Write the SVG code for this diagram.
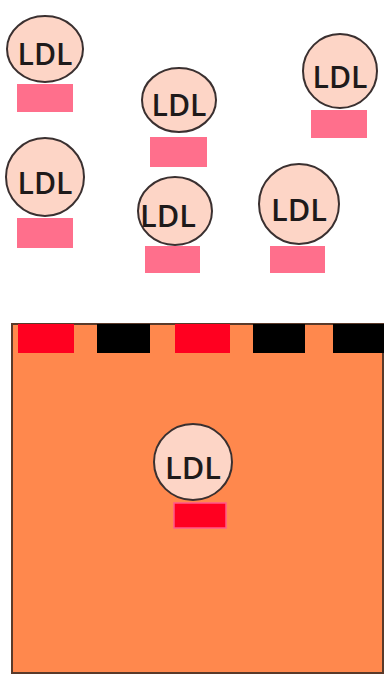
<svg xmlns="http://www.w3.org/2000/svg" width="384" height="677" viewBox="0 0 384 677">
<style>
.c{fill:#fdd5c6;stroke:#3a3030;stroke-width:2}
.t{font-family:"Open Sans","DejaVu Sans",sans-serif;font-size:31px;font-weight:600;fill:#1e1a1a;text-anchor:middle}
.p{fill:#ff6f8c}
.r{fill:#ff0020}
.k{fill:#000}
</style>
<rect width="384" height="677" fill="#fff"/>
<g id="ldl1"><ellipse class="c" cx="45" cy="49" rx="38" ry="33"/><text class="t" x="45" y="65" textLength="55" lengthAdjust="spacingAndGlyphs">LDL</text><rect class="p" x="17" y="84" width="56" height="28"/></g>
<g id="ldl2"><ellipse class="c" cx="179" cy="100" rx="37" ry="32"/><text class="t" x="179" y="116" textLength="55" lengthAdjust="spacingAndGlyphs">LDL</text><rect class="p" x="150" y="137" width="57" height="30"/></g>
<g id="ldl3"><ellipse class="c" cx="340" cy="71" rx="37" ry="37"/><text class="t" x="340" y="88" textLength="55" lengthAdjust="spacingAndGlyphs">LDL</text><rect class="p" x="311" y="110" width="56" height="28"/></g>
<g id="ldl4"><ellipse class="c" cx="45" cy="177" rx="39" ry="39"/><text class="t" x="45" y="194" textLength="55" lengthAdjust="spacingAndGlyphs">LDL</text><rect class="p" x="17" y="218" width="56" height="30"/></g>
<g id="ldl5"><ellipse class="c" cx="175" cy="211" rx="37" ry="34"/><text class="t" x="168" y="227" textLength="56" lengthAdjust="spacingAndGlyphs">LDL</text><rect class="p" x="145" y="246" width="55" height="27"/></g>
<g id="ldl6"><ellipse class="c" cx="299" cy="204" rx="40" ry="40"/><text class="t" x="299" y="221" textLength="56" lengthAdjust="spacingAndGlyphs">LDL</text><rect class="p" x="270" y="246" width="55" height="27"/></g>
<g id="cell">
<rect x="12" y="324" width="371" height="349" fill="#ff884d" stroke="#5a3a2a" stroke-width="2"/>
<rect class="r" x="18" y="324" width="56" height="29"/>
<rect class="k" x="97" y="324" width="53" height="29"/>
<rect class="r" x="175" y="324" width="55" height="29"/>
<rect class="k" x="253" y="324" width="52" height="29"/>
<rect class="k" x="333" y="324" width="51" height="29"/>
</g>
<g id="ldl7"><ellipse class="c" cx="193" cy="462" rx="39" ry="38" fill="#fde0d8"/><text class="t" x="193" y="479" textLength="56" lengthAdjust="spacingAndGlyphs">LDL</text><rect class="r" x="174" y="503" width="52" height="25" stroke="#ff5a8a" stroke-width="1.5"/></g>
<g id="connectors"></g>
</svg>
